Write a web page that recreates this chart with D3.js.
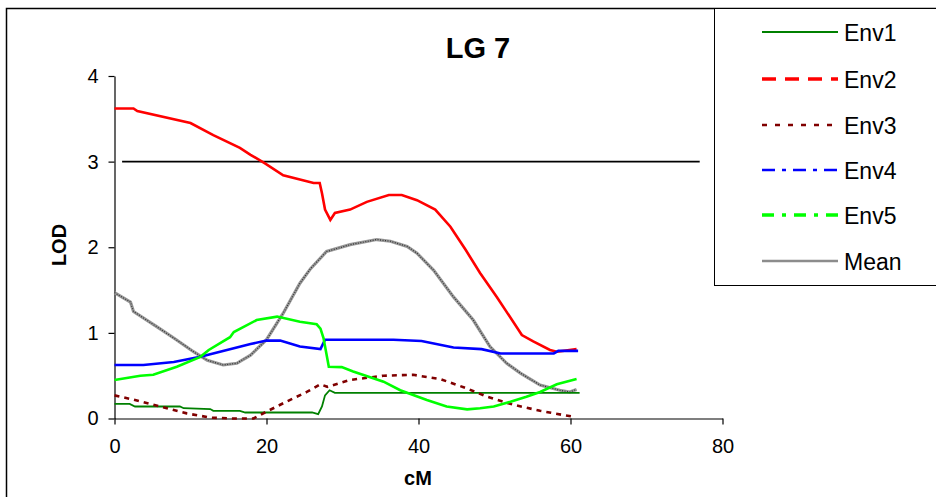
<!DOCTYPE html>
<html lang="en">
<head>
    <meta charset="UTF-8">
    <title>LG 7</title>
    <style>
        body { margin: 0; background: #fff; }
        svg { display: block; font-family: "Liberation Sans", Arial, sans-serif; }
    </style>
</head>
<body>
    <div id="my_dataviz"></div>
    <script src="https://d3js.org/d3.v7.min.js"></script>
    <script>
        // series data: [cM, LOD]
        var env1 = [[0, 0.17], [2, 0.17], [2.7, 0.14], [8.6, 0.14], [9.1, 0.12], [12.6, 0.11], [13, 0.09],
            [16.5, 0.088], [17.2, 0.07], [26, 0.07], [26.8, 0.05], [27.3, 0.14], [27.7, 0.27],
            [28.3, 0.33], [29, 0.30], [61.2, 0.30]];
        var env2 = [[0, 3.62], [2.5, 3.62], [3, 3.59], [10, 3.45], [13, 3.31], [16.5, 3.16], [17.9, 3.08],
            [19.8, 2.98], [22.2, 2.84], [26.2, 2.75], [27, 2.75], [27.3, 2.63], [27.7, 2.44], [28.4, 2.32],
            [29, 2.40], [31, 2.44], [33.2, 2.53], [36.1, 2.61], [37.8, 2.61], [39.8, 2.55], [42.2, 2.44],
            [44.2, 2.24], [46.2, 1.97], [48.1, 1.70], [50.3, 1.42], [53.6, 0.975], [55.1, 0.90],
            [57.3, 0.80], [58.2, 0.78], [60.8, 0.81]];
        var env3 = [[0, 0.27], [2.5, 0.22], [6, 0.14], [9.5, 0.06], [12.6, 0.01], [15.7, 0], [18.3, 0],
            [20, 0.08], [22.7, 0.20], [25.3, 0.31], [27.1, 0.40], [28, 0.37], [31, 0.45], [35.4, 0.50],
            [39.3, 0.51], [42.9, 0.46], [46.4, 0.35], [49, 0.255], [52.5, 0.16], [56, 0.09],
            [59.1, 0.04], [60.4, 0.02]];
        var env4 = [[0, 0.625], [3.8, 0.625], [7.8, 0.66], [11.3, 0.72], [15.7, 0.82], [17.9, 0.87],
            [20, 0.91], [21.8, 0.91], [24.4, 0.84], [27.1, 0.81], [27.7, 0.92], [36.7, 0.92],
            [40.4, 0.905], [44.6, 0.83], [48.3, 0.81], [50.8, 0.76], [57.8, 0.76], [58.4, 0.79], [61, 0.79]];
        var env5 = [[0, 0.45], [3.4, 0.50], [5.1, 0.51], [8.2, 0.605], [11.3, 0.72], [12.4, 0.80],
            [15.2, 0.95], [15.7, 1.01], [18.7, 1.15], [21.4, 1.19], [24.4, 1.13], [26.6, 1.10],
            [27.1, 1.05], [27.5, 0.94], [28.2, 0.605], [29.9, 0.60], [31.4, 0.55], [35.4, 0.43],
            [37.6, 0.33], [41.1, 0.216], [43.7, 0.14], [46.4, 0.107], [48.1, 0.12], [49.9, 0.14],
            [52.1, 0.196], [54.2, 0.255], [56, 0.31], [58.2, 0.40], [60.8, 0.46]];
        var mean = [[0, 1.47], [2.1, 1.36], [2.5, 1.25], [5.6, 1.07], [7.8, 0.94], [10.4, 0.78],
            [12.2, 0.68], [14.3, 0.625], [16.1, 0.645], [17.9, 0.74], [20, 0.92], [22.2, 1.23],
            [24.4, 1.58], [25.8, 1.75], [27.9, 1.95], [31, 2.03], [34.5, 2.09], [36.3, 2.07],
            [38.5, 2.01], [39.8, 1.93], [42, 1.73], [44.6, 1.42], [47.2, 1.15], [49.4, 0.84],
            [51.6, 0.645], [53.4, 0.53], [56, 0.39], [58.6, 0.33], [59.9, 0.31], [60.8, 0.34]];
        var threshold = [[1, 3], [77, 3]];

        var seriesNames = ["Env1", "Env2", "Env3", "Env4", "Env5", "Mean"];
        var xTicks = [0, 20, 40, 60, 80];
        var yTicks = [0, 1, 2, 3, 4];

        var W = 936, H = 497;
        var svg = d3.select("#my_dataviz").append("svg")
            .attr("width", W).attr("height", H);

        // outer frame and legend box
        svg.append("rect").attr("x", 6.5).attr("y", 8.5).attr("width", W).attr("height", H)
            .style("fill", "none").style("stroke", "#000").style("stroke-width", 1.5);
        svg.append("rect").attr("x", 714.5).attr("y", 8.5).attr("width", W).attr("height", 277)
            .style("fill", "#fff").style("stroke", "#000").style("stroke-width", 1);

        var x = d3.scaleLinear().domain([0, 80]).range([114.5, 722.5]);
        var y = d3.scaleLinear().domain([0, 4]).range([418.5, 76]);

        svg.append("g")
            .attr("transform", "translate(0," + y(0) + ")")
            .call(d3.axisBottom(x).tickValues(xTicks).tickFormat(d3.format("d"))
                .tickSize(6).tickPadding(14).tickSizeOuter(0))
            .call(function (g) {
                g.selectAll("text").style("font-size", "20px").style("fill", "#000")
                    .style("font-family", "Liberation Sans, Arial, sans-serif");
                g.selectAll("line, path").style("stroke", "#000").style("stroke-width", 1.2);
            });

        svg.append("g")
            .attr("transform", "translate(" + x(0) + ",0)")
            .call(d3.axisLeft(y).tickValues(yTicks).tickFormat(d3.format("d"))
                .tickSize(6).tickPadding(10).tickSizeOuter(0))
            .call(function (g) {
                g.selectAll("text").style("font-size", "20px").style("fill", "#000")
                    .style("font-family", "Liberation Sans, Arial, sans-serif");
                g.selectAll("line, path").style("stroke", "#000").style("stroke-width", 1.2);
            });

        // title and axis labels
        svg.append("text").attr("x", 478).attr("y", 58).attr("text-anchor", "middle")
            .style("font-size", "29px").style("font-weight", "bold").text("LG 7");
        svg.append("text").attr("x", 418).attr("y", 485).attr("text-anchor", "middle")
            .style("font-size", "20px").style("font-weight", "bold").text("cM");
        svg.append("text").attr("transform", "translate(66,245) rotate(-90)").attr("text-anchor", "middle")
            .style("font-size", "20px").style("font-weight", "bold").text("LOD");

        var line = d3.line().x(function (d) { return x(d[0]); }).y(function (d) { return y(d[1]); });

        svg.append("path").datum(threshold).attr("d", line)
            .style("fill", "none").style("stroke", "#000").style("stroke-width", 1.6);

        // mean: textured gray
        svg.append("path").datum(mean).attr("d", line)
            .style("fill", "none").style("stroke", "#999").style("stroke-width", 3.2);
        svg.append("path").datum(mean).attr("d", line)
            .style("fill", "none").style("stroke", "#333").style("stroke-width", 1.2).style("stroke-dasharray", "1,1.5");

        var styles = [
            { data: env1, color: "#008000", width: 1.8, dash: null },
            { data: env2, color: "#ff0000", width: 2.6, dash: null },
            { data: env3, color: "#800000", width: 2.6, dash: "5,5" },
            { data: env4, color: "#0000ff", width: 2.6, dash: null },
            { data: env5, color: "#00ff00", width: 2.6, dash: null }
        ];
        styles.forEach(function (s) {
            svg.append("path").datum(s.data).attr("d", line)
                .style("fill", "none").style("stroke", s.color).style("stroke-width", s.width)
                .style("stroke-dasharray", s.dash);
        });

        // legend
        var legendStyles = [
            { color: "#008000", width: 2, dash: null },
            { color: "#ff0000", width: 3.5, dash: "14,9" },
            { color: "#800000", width: 2.5, dash: "5,8" },
            { color: "#0000ff", width: 2.5, dash: "13,7,4,7" },
            { color: "#00ff00", width: 3.5, dash: "12,8,4,8" },
            { color: "#8c8c8c", width: 2.5, dash: null }
        ];
        var legendY = [32, 79, 125, 170, 215, 261];
        var legend = svg.selectAll(".legend").data(seriesNames).enter().append("g")
            .attr("class", "legend")
            .attr("transform", function (d, i) { return "translate(0," + legendY[i] + ")"; });
        legend.append("line").attr("x1", 762).attr("x2", 838).attr("y1", 0).attr("y2", 0)
            .style("stroke", function (d, i) { return legendStyles[i].color; })
            .style("stroke-width", function (d, i) { return legendStyles[i].width; })
            .style("stroke-dasharray", function (d, i) { return legendStyles[i].dash; });
        legend.append("text").attr("x", 844).attr("y", 9)
            .style("font-size", "23px").text(function (d) { return d; });
    </script>
</body>
</html>
